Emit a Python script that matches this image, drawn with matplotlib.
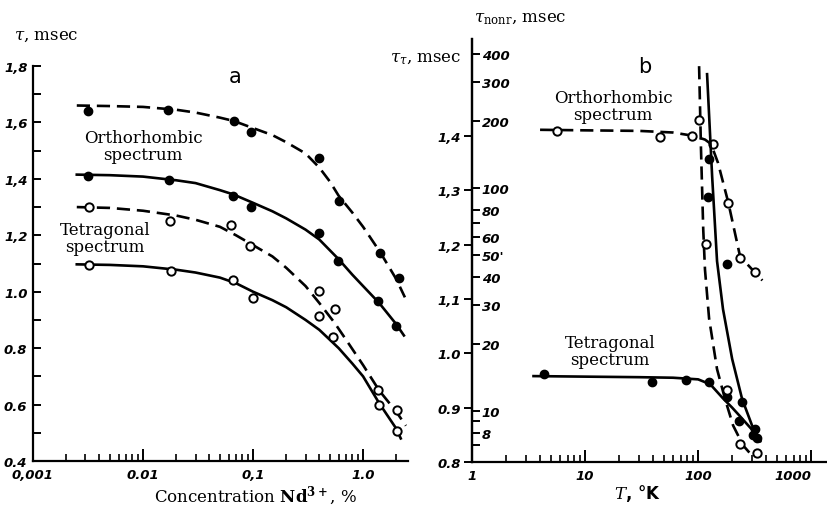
import numpy as np
import matplotlib
matplotlib.use("Agg")
from matplotlib import pyplot as plt
from matplotlib.ticker import LogLocator, NullFormatter, FixedLocator

plt.rcParams["font.family"] = ["DejaVu Serif", "DejaVu Sans"]
plt.rcParams["mathtext.fontset"] = "dejavuserif"

# ---- panel a : lifetime vs Nd concentration ----
conc_ortho_dash = [0.00316, 0.0169, 0.067, 0.096, 0.40, 0.605, 1.43, 2.12]
tau_ortho_dash = [1.64, 1.644, 1.605, 1.566, 1.474, 1.322, 1.138, 1.05]
conc_ortho_solid = [0.00316, 0.0172, 0.066, 0.096, 0.40, 0.59, 1.38, 2.0]
tau_ortho_solid = [1.41, 1.396, 1.34, 1.30, 1.208, 1.11, 0.968, 0.88]
conc_tetr_dash = [0.0032, 0.0175, 0.063, 0.094, 0.40, 0.40, 0.55, 1.37, 2.05]
tau_tetr_dash = [1.30, 1.25, 1.237, 1.163, 1.004, 0.915, 0.937, 0.653, 0.58]
conc_tetr_solid = [0.0032, 0.018, 0.066, 0.1, 0.53, 1.4, 2.05]
tau_tetr_solid = [1.096, 1.075, 1.043, 0.979, 0.838, 0.597, 0.505]

# curves
cx_ortho_dash = [0.0025, 0.005, 0.01, 0.02, 0.03, 0.05, 0.067, 0.1, 0.15, 0.2, 0.3, 0.4,
                 0.5, 0.6, 0.8, 1.0, 1.43, 2.0, 2.4]
cy_ortho_dash = [1.66, 1.658, 1.655, 1.645, 1.635, 1.617, 1.605, 1.58, 1.555, 1.53, 1.49, 1.44,
                 1.39, 1.34, 1.28, 1.23, 1.14, 1.045, 0.98]
cx_ortho_solid = [0.0025, 0.005, 0.01, 0.02, 0.03, 0.05, 0.066, 0.1, 0.15, 0.2, 0.3, 0.4,
                  0.6, 0.8, 1.0, 1.4, 2.0, 2.35]
cy_ortho_solid = [1.415, 1.413, 1.408, 1.395, 1.385, 1.36, 1.345, 1.315, 1.285, 1.26, 1.22, 1.185,
                  1.115, 1.06, 1.02, 0.96, 0.885, 0.845]
cx_tetr_dash = [0.0025, 0.005, 0.01, 0.02, 0.03, 0.05, 0.07, 0.1, 0.15, 0.2, 0.3, 0.4,
                0.55, 0.7, 1.0, 1.4, 2.0, 2.45]
cy_tetr_dash = [1.30, 1.297, 1.287, 1.27, 1.255, 1.23, 1.20, 1.165, 1.125, 1.085, 1.02, 0.96,
                0.89, 0.83, 0.74, 0.65, 0.575, 0.525]
cx_tetr_solid = [0.0025, 0.005, 0.01, 0.02, 0.03, 0.05, 0.07, 0.1, 0.15, 0.2, 0.3, 0.4,
                 0.6, 0.8, 1.0, 1.4, 2.0, 2.2]
cy_tetr_solid = [1.097, 1.095, 1.09, 1.078, 1.068, 1.05, 1.03, 1.0, 0.97, 0.945, 0.9, 0.865,
                 0.8, 0.745, 0.70, 0.605, 0.515, 0.48]

a_yticks = [0.4, 0.6, 0.8, 1.0, 1.2, 1.4, 1.6, 1.8]
a_ylabels = ["0.4", "0.6", "0.8", "1.0", "1,2", "1,4", "1,6", "1,8"]
a_xticks = [0.001, 0.01, 0.1, 1.0]
a_xlabels = ["0,001", "0.01", "0,1", "1.0"]

# ---- panel b : lifetimes vs temperature ----
T_ortho_tau = [5.65, 46, 88.5, 136, 184, 235, 319]
tau_ortho_T = [1.409, 1.398, 1.40, 1.385, 1.277, 1.176, 1.149]
cT_ortho_tau = [4, 10, 30, 60, 90, 115, 130, 150, 185, 235, 320, 370]
ctau_ortho_T = [1.411, 1.41, 1.409, 1.406, 1.40, 1.393, 1.385, 1.35, 1.277, 1.178, 1.148, 1.134]

T_tetr_tau = [4.34, 39, 78, 125, 181, 230, 307, 330]
tau_tetr_T = [0.961, 0.947, 0.95, 0.947, 0.919, 0.875, 0.85, 0.844]
cT_tetr_tau = [3.5, 10, 30, 60, 100, 128, 166, 200, 235, 307, 355]
ctau_tetr_T = [0.958, 0.957, 0.956, 0.955, 0.952, 0.943, 0.917, 0.90, 0.884, 0.857, 0.84]

T_ortho_nonr = [101, 117, 181, 235, 331]
nonr_ortho = [202, 56, 12.4, 7.1, 6.5]
cT_ortho_nonr = [102, 106, 111, 115, 125, 147, 173, 204, 250, 300]
cnonr_ortho = [352, 150, 65, 43, 26, 15.4, 11.3, 8.6, 7.0, 6.3]

T_tetr_nonr = [125, 123, 181, 245, 318]
nonr_tetr = [135, 91, 45.6, 11.0, 8.3]
cT_tetr_nonr = [120, 133, 147, 166, 200, 245, 300, 354]
cnonr_tetr = [324, 113, 47, 28.6, 17.1, 11.3, 8.6, 7.3]

b_yticks = [0.8, 0.9, 1.0, 1.1, 1.2, 1.3, 1.4]
b_ylabels = ["0.8", "0.9", "1.0", "1,1", "1,2", "1,3", "1,4"]
nonr_ticks = [8, 10, 20, 30, 40, 50, 60, 80, 100, 200, 300, 400]
nonr_labels = ["8", "10", "20", "30", "40", "50'", "60", "80", "100", "200", "300", "400"]
nonr_minor = [7, 9, 70]
b_xticks = [1, 10, 100, 1000]
b_xlabels = ["1", "10", "100", "1000"]

W, H = 827, 506
fig = plt.figure(figsize=(W / 100, H / 100), dpi=100)

tick_font = dict(family="DejaVu Sans", style="italic", weight="bold", size=9.5)
dash = (0, (5, 2.6))
lw = 1.9
ms = 6


def fx(px):
    return px / W


def fy(py):
    return 1 - py / H


def style_axes(ax):
    for s in ["top", "right"]:
        ax.spines[s].set_visible(False)
    for s in ["left", "bottom"]:
        ax.spines[s].set_linewidth(1.6)


# panel a
axa = fig.add_axes([fx(33), fy(462), fx(408) - fx(33), fy(67) - fy(462)])
style_axes(axa)
axa.set_xscale("log")
axa.set_xlim(0.001, 2.56)
axa.set_ylim(0.4, 1.8)
axa.plot(cx_ortho_dash, cy_ortho_dash, color="k", lw=lw, ls=dash)
axa.plot(cx_ortho_solid, cy_ortho_solid, color="k", lw=lw)
axa.plot(cx_tetr_dash, cy_tetr_dash, color="k", lw=lw, ls=dash)
axa.plot(cx_tetr_solid, cy_tetr_solid, color="k", lw=lw)
axa.plot(conc_ortho_dash, tau_ortho_dash, "o", color="k", ms=ms)
axa.plot(conc_ortho_solid, tau_ortho_solid, "o", color="k", ms=ms)
axa.plot(conc_tetr_dash, tau_tetr_dash, "o", mfc="white", mec="k", mew=1.4, ms=ms)
axa.plot(conc_tetr_solid, tau_tetr_solid, "o", mfc="white", mec="k", mew=1.4, ms=ms)
axa.set_yticks(a_yticks)
axa.set_yticklabels(a_ylabels, **tick_font)
axa.yaxis.set_minor_locator(FixedLocator([0.5, 0.7, 0.9, 1.1, 1.3, 1.5, 1.7]))
axa.set_xticks(a_xticks)
axa.set_xticklabels(a_xlabels, **tick_font)
axa.xaxis.set_minor_locator(LogLocator(base=10, subs=range(2, 10)))
axa.xaxis.set_minor_formatter(NullFormatter())
axa.tick_params(axis="y", which="both", direction="in", length=6, width=1.4, pad=4)
axa.tick_params(axis="x", which="major", direction="in", length=9, width=1.4, pad=5)
axa.tick_params(axis="x", which="minor", direction="in", length=5, width=1.2)

fig.text(fx(14), fy(35), r"$\tau$, msec", fontsize=12, va="center", ha="left")
fig.text(fx(235), fy(77), "a", fontsize=15, family="DejaVu Sans", va="center", ha="center")
fig.text(fx(143), fy(147), "Orthorhombic\nspectrum", fontsize=12, ha="center", va="center",
         linespacing=1.05)
fig.text(fx(105), fy(239), "Tetragonal\nspectrum", fontsize=12, ha="center", va="center",
         linespacing=1.05)
fig.text(fx(255), fy(496), r"Concentration $\mathbf{Nd^{3+}}$, %", fontsize=12,
         ha="center", va="center")

# panel b
rect = [fx(472), fy(463), 1 - fx(472), fy(40) - fy(463)]
axb = fig.add_axes(rect)
style_axes(axb)
axb.set_xscale("log")
axb.set_xlim(1, 1380)
axb.set_ylim(0.802, 1.578)
axb.plot(cT_ortho_tau, ctau_ortho_T, color="k", lw=lw, ls=dash)
axb.plot(cT_tetr_tau, ctau_tetr_T, color="k", lw=lw)
axb.plot(T_ortho_tau, tau_ortho_T, "o", mfc="white", mec="k", mew=1.4, ms=ms)
axb.plot(T_tetr_tau, tau_tetr_T, "o", color="k", ms=ms)
axb.set_yticks(b_yticks)
axb.set_yticklabels(b_ylabels, **tick_font)
axb.set_xticks(b_xticks)
xlabs = axb.set_xticklabels(b_xlabels, **tick_font)
xlabs[-1].set_horizontalalignment("right")
axb.xaxis.set_minor_locator(LogLocator(base=10, subs=range(2, 10)))
axb.xaxis.set_minor_formatter(NullFormatter())
axb.tick_params(axis="y", direction="out", length=6, width=1.4, pad=2)
axb.tick_params(axis="x", which="major", direction="in", length=9, width=1.4, pad=5)
axb.tick_params(axis="x", which="minor", direction="in", length=5, width=1.2)

axn = axb.twinx()
for s in ["top", "left", "bottom"]:
    axn.spines[s].set_visible(False)
axn.spines["right"].set_position(("axes", 0.0))
axn.spines["right"].set_linewidth(1.6)
axn.set_yscale("log")
axn.set_ylim(5.9, 466)
axn.plot(cT_ortho_nonr, cnonr_ortho, color="k", lw=lw, ls=dash)
axn.plot(cT_tetr_nonr, cnonr_tetr, color="k", lw=lw)
axn.plot(T_ortho_nonr, nonr_ortho, "o", mfc="white", mec="k", mew=1.4, ms=ms)
axn.plot(T_tetr_nonr, nonr_tetr, "o", color="k", ms=ms)
axn.yaxis.set_major_locator(FixedLocator(nonr_ticks))
axn.set_yticklabels(nonr_labels, **tick_font)
axn.yaxis.set_minor_locator(FixedLocator(nonr_minor))
axn.yaxis.set_minor_formatter(NullFormatter())
axn.tick_params(axis="y", which="both", direction="out", length=6, width=1.4, pad=1)

fig.text(fx(474), fy(18), r"$\tau_{\rm nonr}$, msec", fontsize=12, ha="left", va="center")
fig.text(fx(390), fy(58), r"$\tau_\tau$, msec", fontsize=12, ha="left", va="center")
fig.text(fx(645), fy(67), "b", fontsize=15, family="DejaVu Sans", ha="center", va="center")
fig.text(fx(613), fy(107), "Orthorhombic\nspectrum", fontsize=12, ha="center", va="center",
         linespacing=1.05)
fig.text(fx(610), fy(352), "Tetragonal\nspectrum", fontsize=12, ha="center", va="center",
         linespacing=1.05)
fig.text(fx(637), fy(494), r"$T$, °K", fontsize=12, family="DejaVu Sans", weight="bold",
         ha="center", va="center")

fig.savefig("out.png", dpi=100)
